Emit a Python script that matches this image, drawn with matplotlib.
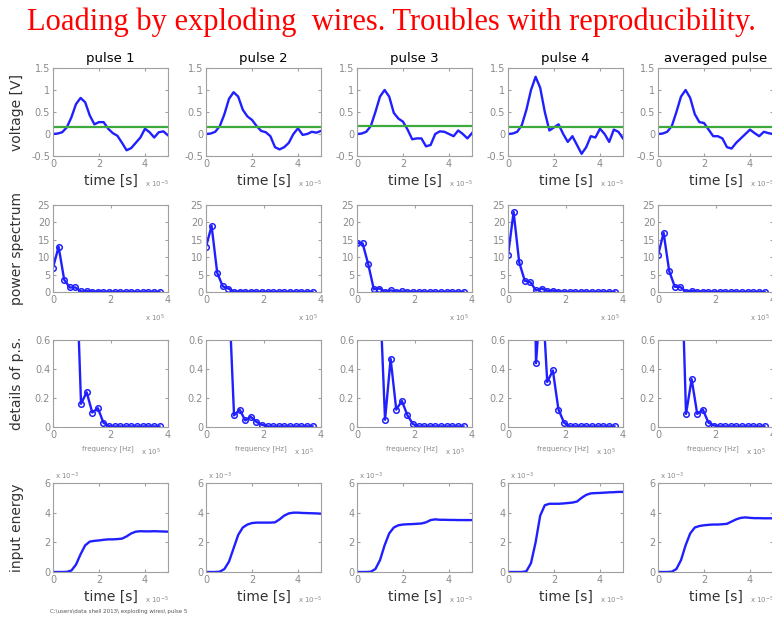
import numpy as np
import matplotlib.pyplot as plt

# time axis in units of 1e-5 s
t = np.arange(0, 5.01, 0.2)

titles = ['pulse 1', 'pulse 2', 'pulse 3', 'pulse 4', 'averaged pulse']

#voltage [V]
v1 = [0.0, 0.01, 0.04, 0.15, 0.38, 0.68, 0.82, 0.72, 0.42, 0.22, 0.27, 0.27, 0.12,
      0.02, -0.04, -0.2, -0.37, -0.32, -0.2, -0.08, 0.12, 0.04, -0.08, 0.04, 0.06, -0.03]
v2 = [0.0, 0.01, 0.05, 0.18, 0.45, 0.8, 0.95, 0.85, 0.55, 0.4, 0.32, 0.18, 0.07,
      0.04, -0.05, -0.3, -0.35, -0.3, -0.2, 0.0, 0.13, -0.02, 0.0, 0.05, 0.03, 0.07]
v3 = [0.0, 0.01, 0.05, 0.18, 0.5, 0.85, 1.0, 0.85, 0.48, 0.35, 0.28, 0.1, -0.12,
      -0.1, -0.1, -0.28, -0.25, 0.0, 0.06, 0.05, 0.0, -0.05, 0.08, 0.0, -0.1, 0.02]
v4 = [0.0, 0.01, 0.05, 0.2, 0.55, 1.0, 1.3, 1.05, 0.5, 0.08, 0.15, 0.22, 0.0,
      -0.18, -0.05, -0.25, -0.45, -0.3, -0.05, -0.08, 0.12, 0.0, -0.18, 0.1, 0.05, -0.1]
v5 = [0.0, 0.01, 0.05, 0.18, 0.5, 0.85, 1.0, 0.82, 0.45, 0.27, 0.25, 0.1, -0.05,
      -0.05, -0.1, -0.3, -0.33, -0.2, -0.1, 0.0, 0.1, 0.02, -0.05, 0.05, 0.02, 0.0]
voltages = [v1, v2, v3, v4, v5]
levels = [0.15, 0.16, 0.18, 0.15, 0.15]

#power spectrum, frequency in units of 1e5 Hz
f = np.arange(20) * 0.195
z = [0.004] * 9
ps1 = [7, 13, 3.5, 1.3, 1.3, 0.16, 0.24, 0.1, 0.13, 0.03, 0.005] + z
ps2 = [13, 19, 5.5, 1.6, 1.0, 0.08, 0.12, 0.045, 0.07, 0.035, 0.015] + z
ps3 = [14, 14, 8, 0.8, 1.0, 0.05, 0.47, 0.12, 0.18, 0.08, 0.02] + z
ps4 = [10.5, 23, 8.5, 3.2, 2.8, 0.44, 1.0, 0.31, 0.39, 0.12, 0.03] + z
ps5 = [10.5, 17, 6, 1.5, 1.4, 0.09, 0.33, 0.09, 0.12, 0.03, 0.01] + z
spectra = [ps1, ps2, ps3, ps4, ps5]

#input energy, units of 1e-3
e1 = [0, 0, 0, 0.01, 0.1, 0.5, 1.2, 1.8, 2.05, 2.1, 2.13, 2.17, 2.2, 2.2, 2.22, 2.25,
      2.4, 2.6, 2.72, 2.75, 2.74, 2.74, 2.75, 2.74, 2.73, 2.72]
e2 = [0, 0, 0, 0.02, 0.2, 0.7, 1.6, 2.5, 3.0, 3.2, 3.3, 3.33, 3.33, 3.33, 3.33, 3.35,
      3.55, 3.8, 3.95, 4.0, 4.0, 3.98, 3.97, 3.96, 3.95, 3.93]
e3 = [0, 0, 0, 0.02, 0.2, 0.8, 1.8, 2.6, 3.0, 3.15, 3.2, 3.22, 3.23, 3.25, 3.27, 3.35,
      3.5, 3.55, 3.52, 3.52, 3.51, 3.51, 3.5, 3.5, 3.5, 3.5]
e4 = [0, 0, 0, 0, 0.05, 0.6, 2.0, 3.8, 4.5, 4.6, 4.6, 4.6, 4.62, 4.65, 4.68, 4.75,
      5.0, 5.2, 5.3, 5.32, 5.33, 5.35, 5.37, 5.38, 5.4, 5.4]
e5 = [0, 0, 0, 0.02, 0.2, 0.8, 1.8, 2.6, 3.0, 3.1, 3.15, 3.18, 3.2, 3.2, 3.22, 3.25,
      3.4, 3.55, 3.65, 3.68, 3.65, 3.63, 3.63, 3.62, 3.62, 3.62]
energies = [e1, e2, e3, e4, e5]

W, H = 772, 618
fig = plt.figure(figsize=(W / 100, H / 100), dpi=100)

lefts = [53, 206, 357, 508, 658]
rows = [(68, 156), (205, 292), (340, 427), (483, 572)]
aw = 115
blue = '#2020ff'
grey = '#8a8a8a'
tick_font = 7

def make_ax(col, row):
    top, bot = rows[row]
    ax = fig.add_axes([lefts[col] / W, 1 - bot / H, aw / W, (bot - top) / H])
    for s in ax.spines.values():
        s.set_color('#a0a0a0')
        s.set_linewidth(0.8)
    ax.tick_params(direction='in', length=2, colors='#a0a0a0', labelcolor=grey,
                   labelsize=tick_font, top=True, right=True, pad=2)
    return ax

def fig_text(x, y, s, **kw):
    fig.text(x / W, 1 - y / H, s, **kw)

for c in range(5):
    cx = lefts[c] + aw / 2
    #voltage
    ax = make_ax(c, 0)
    ax.plot(t, voltages[c], color=blue, lw=1.7)
    ax.axhline(levels[c], color='#3caa3c', lw=1.6)
    ax.set_xlim(0, 5)
    ax.set_ylim(-0.5, 1.5)
    ax.set_xticks([0, 2, 4])
    ax.set_yticks([-0.5, 0, 0.5, 1, 1.5])
    ax.set_yticklabels(['-0.5', '0', '0.5', '1', '1.5'])
    ax.set_title(titles[c], fontsize=9.5, pad=4)
    fig_text(cx, 181, 'time [s]', fontsize=10, color='#333333', ha='center', va='center')
    fig_text(lefts[c] + 92, 184, r'x 10$^{-5}$', fontsize=5, color=grey, va='center')
    #power spectrum
    ax = make_ax(c, 1)
    ax.plot(f, spectra[c], color=blue, lw=1.7, marker='o', ms=4, mfc='none', mew=1.1)
    ax.set_xlim(0, 4)
    ax.set_ylim(0, 25)
    ax.set_xticks([0, 2, 4])
    ax.set_yticks([0, 5, 10, 15, 20, 25])
    fig_text(lefts[c] + 92, 318, r'x 10$^{5}$', fontsize=5, color=grey, va='center')
    #details
    ax = make_ax(c, 2)
    ax.plot(f, spectra[c], color=blue, lw=1.7, marker='o', ms=4, mfc='none', mew=1.1)
    ax.set_xlim(0, 4)
    ax.set_ylim(0, 0.6)
    ax.set_xticks([0, 2, 4])
    ax.set_yticks([0, 0.2, 0.4, 0.6])
    ax.set_yticklabels(['0', '0.2', '0.4', '0.6'])
    fig_text(lefts[c] + 55, 449, 'frequency [Hz]', fontsize=5, color=grey, ha='center', va='center')
    fig_text(lefts[c] + 88, 452, r'x 10$^{5}$', fontsize=5, color=grey, va='center')
    #input energy
    ax = make_ax(c, 3)
    ax.plot(t, energies[c], color=blue, lw=1.7)
    ax.set_xlim(0, 5)
    ax.set_ylim(0, 6)
    ax.set_xticks([0, 2, 4])
    ax.set_yticks([0, 2, 4, 6])
    fig_text(lefts[c] + 2, 476, r'x 10$^{-3}$', fontsize=5, color=grey, va='center')
    fig_text(cx, 597, 'time [s]', fontsize=10, color='#333333', ha='center', va='center')
    fig_text(lefts[c] + 92, 600, r'x 10$^{-5}$', fontsize=5, color=grey, va='center')

ylabels = ['voltage [V]', 'power spectrum', 'details of p.s.', 'input energy']
for r, lab in enumerate(ylabels):
    top, bot = rows[r]
    fig_text(17, (top + bot) / 2, lab, fontsize=10, color='#333333', rotation=90,
             ha='center', va='center')

fig_text(391, 22, 'Loading by exploding  wires. Troubles with reproducibility.',
         fontsize=22, color='red', family='Liberation Serif', ha='center', va='center')
fig_text(50, 612, r'C:\users\data shell 2013\ exploding wires\ pulse 5', fontsize=4,
         color='#555555', va='center')

fig.savefig('out.png', dpi=100)
